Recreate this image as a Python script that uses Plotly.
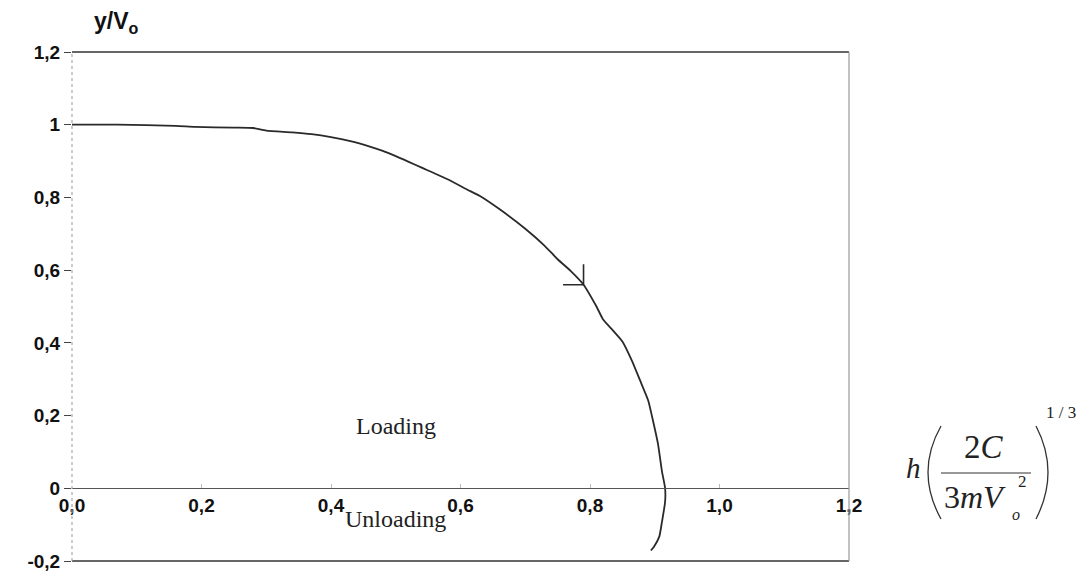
import plotly.graph_objects as go

# ---- data ----
h_vals = [0.0, 0.07, 0.16, 0.19, 0.25, 0.28, 0.30, 0.34, 0.37, 0.40, 0.43, 0.46, 0.48, 0.52, 0.54,
          0.58, 0.61, 0.63, 0.66, 0.70, 0.73, 0.75, 0.77, 0.79, 0.81, 0.82, 0.835, 0.85, 0.865,
          0.877, 0.89, 0.896, 0.905, 0.911, 0.916, 0.916, 0.911, 0.907, 0.899, 0.894]
y_vals = [1.0, 1.0, 0.997, 0.994, 0.992, 0.991, 0.984, 0.979, 0.974, 0.966, 0.955, 0.94, 0.928, 0.898, 0.882,
          0.850, 0.822, 0.804, 0.768, 0.714, 0.667, 0.630, 0.598, 0.56, 0.50, 0.465, 0.435, 0.404, 0.350,
          0.298, 0.241, 0.196, 0.122, 0.048, 0.0, -0.037, -0.094, -0.133, -0.160, -0.171]
arrow_idx = 23  # point on the curve where the arrow mark sits

x_tickvals = [0.0, 0.2, 0.4, 0.6, 0.8, 1.0, 1.2]
x_ticktext = ["0,0", "0,2", "0,4", "0,6", "0,8", "1,0", "1,2"]
y_tickvals = [-0.2, 0.0, 0.2, 0.4, 0.6, 0.8, 1.0, 1.2]
y_ticktext = ["-0,2", "0", "0,2", "0,4", "0,6", "0,8", "1", "1,2"]
y_range = [-0.2, 1.2]
x_range = [0.0, 1.2]

# ---- layout geometry ----
W, H = 1079, 574
L, R, T, B = 72, 230, 52, 13
PW, PH = W - L - R, H - T - B


def px(x):
    return (x - L) / PW


def py(y):
    return (H - B - y) / PH


fig = go.Figure()
fig.add_trace(go.Scatter(x=h_vals, y=y_vals, mode="lines",
                         line=dict(color="#2a2a2a", width=1.8, shape="spline", smoothing=0.5),
                         hoverinfo="skip", showlegend=False))

sans = "Liberation Sans, Arial, sans-serif"
serif = "Liberation Serif, Times New Roman, serif"
ink = "#222"

annotations = [
    # arrow mark on the curve
    dict(x=h_vals[arrow_idx], y=y_vals[arrow_idx], xref="x", yref="y", ax=0, ay=-22,
         showarrow=True, arrowhead=0, arrowwidth=1.6, arrowcolor="#2a2a2a", text=""),
    dict(x=h_vals[arrow_idx], y=y_vals[arrow_idx], xref="x", yref="y", ax=-22, ay=0,
         showarrow=True, arrowhead=0, arrowwidth=1.6, arrowcolor="#2a2a2a", text=""),
    # axis title
    dict(x=px(92), y=py(22), xref="paper", yref="paper", showarrow=False,
         text="<b>y/V<sub>o</sub></b>", font=dict(family=sans, size=23, color="#111"),
         xanchor="left", yanchor="middle"),
    # region labels
    dict(x=0.50, y=0.17, xref="x", yref="y", showarrow=False, text="Loading",
         font=dict(family=serif, size=24, color=ink), xanchor="center", yanchor="middle"),
    dict(x=0.50, y=-0.085, xref="x", yref="y", showarrow=False, text="Unloading",
         font=dict(family=serif, size=24, color=ink), xanchor="center", yanchor="middle"),
    # formula pieces
    dict(x=px(913), y=py(468), xref="paper", yref="paper", showarrow=False,
         text="<i>h</i>", font=dict(family=serif, size=29, color=ink),
         xanchor="center", yanchor="middle"),
    dict(x=px(984), y=py(447), xref="paper", yref="paper", showarrow=False,
         text="2<i>C</i>", font=dict(family=serif, size=33, color=ink),
         xanchor="center", yanchor="middle"),
    dict(x=px(942), y=py(497), xref="paper", yref="paper", showarrow=False,
         text="3<i>mV</i>", font=dict(family=serif, size=32, color=ink),
         xanchor="left", yanchor="middle"),
    dict(x=px(1016), y=py(514), xref="paper", yref="paper", showarrow=False,
         text="<i>o</i>", font=dict(family=serif, size=16, color=ink),
         xanchor="center", yanchor="middle"),
    dict(x=px(1022), y=py(481), xref="paper", yref="paper", showarrow=False,
         text="2", font=dict(family=serif, size=17, color=ink),
         xanchor="center", yanchor="middle"),
    dict(x=px(1061), y=py(412), xref="paper", yref="paper", showarrow=False,
         text="1 / 3", font=dict(family=serif, size=17, color=ink),
         xanchor="center", yanchor="middle"),
]

line_dark = dict(color="#333", width=1.5)
shapes = [
    # frame
    dict(type="line", xref="paper", yref="paper", x0=0, x1=1, y0=1, y1=1, line=line_dark),
    dict(type="line", xref="paper", yref="paper", x0=0, x1=1, y0=0, y1=0, line=line_dark),
    dict(type="line", xref="paper", yref="paper", x0=1, x1=1, y0=0, y1=1,
         line=dict(color="#999", width=1.2)),
    dict(type="line", xref="paper", yref="paper", x0=0, x1=0, y0=0, y1=1,
         line=dict(color="#aaa", width=1.2, dash="dot")),
    # fraction bar
    dict(type="line", xref="paper", yref="paper", x0=px(941), x1=px(1031),
         y0=py(473), y1=py(473), line=dict(color="#333", width=1.2)),
    # big parentheses
    dict(type="path", xref="paper", yref="paper",
         path=f"M {px(941)},{py(426)} Q {px(915)},{py(472)} {px(941)},{py(519)}",
         line=dict(color="#333", width=1.3)),
    dict(type="path", xref="paper", yref="paper",
         path=f"M {px(1036)},{py(426)} Q {px(1060)},{py(472)} {px(1036)},{py(519)}",
         line=dict(color="#333", width=1.3)),
]

zero_pos = (0 - y_range[0]) / (y_range[1] - y_range[0])

fig.update_layout(
    width=W, height=H,
    margin=dict(l=L, r=R, t=T, b=B, autoexpand=False),
    paper_bgcolor="white", plot_bgcolor="white",
    showlegend=False,
    annotations=annotations,
    shapes=shapes,
    xaxis=dict(range=x_range, tickvals=x_tickvals, ticktext=x_ticktext,
               anchor="free", position=zero_pos, showgrid=False, zeroline=False,
               showline=True, linecolor="#555", linewidth=1.3,
               ticks="inside", ticklen=4, tickcolor="#bbb",
               tickfont=dict(family=sans, size=19, color="#111", weight="bold")),
    yaxis=dict(range=y_range, tickvals=y_tickvals, ticktext=y_ticktext,
               showgrid=False, zeroline=False, showline=False,
               ticks="outside", ticklen=7, tickcolor="#444", ticklabeloverflow="allow",
               tickfont=dict(family=sans, size=19, color="#111", weight="bold")),
)

fig.write_html("out.html", config={"displayModeBar": False},
               post_script="document.body.style.margin='0';document.body.style.padding='0';")
